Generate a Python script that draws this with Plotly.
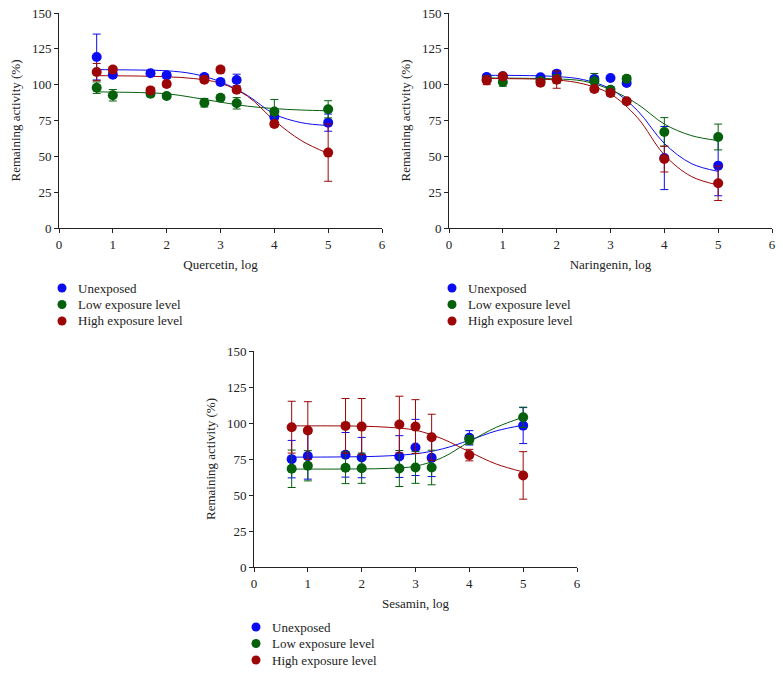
import plotly.graph_objects as go

# ---------------- data ----------------
conc_log = [0.7, 1, 1.7, 2, 2.7, 3, 3.3, 4, 5]
curve_x = [0.7, 1, 1.5, 2, 2.5, 3, 3.5, 4, 4.5, 5]

series_names = ["Unexposed", "Low exposure level", "High exposure level"]
series_colors = ["#0b0bf2", "#05600c", "#9c0606"]

# Quercetin
quer_unexp = [119.3, 107.0, 108.0, 106.5, 105.3, 101.9, 103.3, 77.4, 73.5]
quer_unexp_err = [16, 2, 2, 2, 2, 2, 4, 3, 6]
quer_low = [97.9, 92.6, 93.7, 92.1, 87.4, 90.9, 87.0, 81.2, 82.8]
quer_low_err = [4, 4, 2, 1.5, 3, 2, 4, 8.5, 6]
quer_high = [108.8, 110.5, 96.0, 100.5, 103.5, 110.5, 96.5, 72.6, 52.6]
quer_high_err = [6, 2, 2, 2, 2, 2, 2, 2, 20]
quer_fit_unexp = [110.5, 110.4, 110.2, 109.7, 107.5, 102.0, 92.5, 79.5, 73.5, 71.5]
quer_fit_low = [95.0, 94.8, 94.5, 93.7, 91.0, 87.8, 85.0, 83.3, 82.3, 81.8]
quer_fit_high = [106.3, 106.2, 106.0, 105.5, 104.3, 101.0, 92.0, 75.0, 61.0, 52.0]

# Naringenin
nar_unexp = [105.3, 105.8, 105.1, 107.7, 104.0, 104.7, 101.2, 48.8, 43.5]
nar_unexp_err = [2, 2, 1.5, 2, 2, 1, 1.5, 22, 21]
nar_low = [103.5, 101.9, 102.5, 104.0, 102.3, 96.5, 104.2, 67.0, 63.5]
nar_low_err = [2, 3, 2, 3, 5.5, 2, 2, 10, 9]
nar_high = [103.0, 105.8, 101.4, 103.5, 97.0, 94.2, 88.4, 48.1, 31.2]
nar_high_err = [3, 2, 2, 6, 2, 2, 2, 9, 12]
nar_fit_unexp = [106.5, 106.5, 106.3, 105.7, 103.5, 97.0, 82.0, 59.0, 45.0, 39.5]
nar_fit_low = [104.7, 104.6, 104.4, 104.0, 102.5, 96.5, 86.5, 72.5, 64.5, 61.0]
nar_fit_high = [104.3, 104.2, 104.0, 103.3, 100.5, 93.5, 77.0, 51.0, 36.0, 30.0]

# Sesamin
ses_unexp = [74.9, 77.0, 77.9, 76.0, 76.7, 83.0, 75.8, 89.7, 98.2]
ses_unexp_err = [13, 16, 15.5, 14, 14.5, 19.5, 13, 5, 12.5]
ses_low = [68.2, 70.3, 68.9, 68.6, 68.4, 69.1, 69.1, 88.3, 104.0]
ses_low_err = [13, 10.5, 11, 10.5, 12.5, 11, 12, 3, 7]
ses_high = [97.1, 94.8, 98.0, 97.5, 98.9, 97.5, 90.1, 77.7, 63.6]
ses_high_err = [18, 20, 19, 19.5, 19.7, 18.7, 16, 4, 16.5]
ses_fit_unexp = [76.3, 76.3, 76.4, 76.6, 77.2, 78.6, 82.0, 88.0, 94.5, 98.5]
ses_fit_low = [68.0, 68.0, 68.0, 68.1, 68.5, 70.0, 76.0, 87.0, 97.0, 104.0]
ses_fit_high = [98.0, 98.0, 98.0, 97.8, 97.0, 95.0, 89.0, 80.0, 71.5, 66.0]

x_ticks = [0, 1, 2, 3, 4, 5, 6]
y_ticks = [0, 25, 50, 75, 100, 125, 150]

panels = [
    ("Quercetin, log", [quer_unexp, quer_low, quer_high],
     [quer_unexp_err, quer_low_err, quer_high_err],
     [quer_fit_unexp, quer_fit_low, quer_fit_high]),
    ("Naringenin, log", [nar_unexp, nar_low, nar_high],
     [nar_unexp_err, nar_low_err, nar_high_err],
     [nar_fit_unexp, nar_fit_low, nar_fit_high]),
    ("Sesamin, log", [ses_unexp, ses_low, ses_high],
     [ses_unexp_err, ses_low_err, ses_high_err],
     [ses_fit_unexp, ses_fit_low, ses_fit_high]),
]

# ---------------- layout geometry ----------------
W, H = 783, 675
plot_boxes = [  # left, right, top, bottom in px
    (59, 382, 13, 228),
    (449, 772, 13, 228),
    (254, 577, 351, 567),
]
# legend: text left x, first row centre y, row step (px)
legend_pos = [(76, 288), (466, 288), (270, 627)]
legend_step = 16.5

FONT = "Liberation Serif, DejaVu Serif, serif"
TXT = "#222"

fig = go.Figure()
layout = dict(
    width=W, height=H,
    margin=dict(l=0, r=0, t=0, b=0),
    paper_bgcolor="white", plot_bgcolor="white",
    font=dict(family=FONT, size=13, color=TXT),
    showlegend=False,
)
annotations = []
shapes = []

for i, (title, ys, errs, fits) in enumerate(panels):
    xa = "x" if i == 0 else f"x{i+1}"
    ya = "y" if i == 0 else f"y{i+1}"
    for k in range(3):
        c = series_colors[k]
        fig.add_trace(go.Scatter(
            x=curve_x, y=fits[k], mode="lines", line=dict(color=c, width=1, shape="spline"),
            xaxis=xa, yaxis=ya, showlegend=False, hoverinfo="skip"))
    for k in range(3):
        c = series_colors[k]
        fig.add_trace(go.Scatter(
            x=conc_log, y=ys[k], mode="markers",
            marker=dict(color=c, size=10),
            error_y=dict(type="data", array=errs[k], visible=True, color=c, thickness=1, width=4),
            xaxis=xa, yaxis=ya, showlegend=False, name=series_names[k]))

    l, r, t, b = plot_boxes[i]
    axkey_x = "xaxis" if i == 0 else f"xaxis{i+1}"
    axkey_y = "yaxis" if i == 0 else f"yaxis{i+1}"
    layout[axkey_x] = dict(
        domain=[l / W, r / W], anchor=ya, range=[0, 6], tickvals=x_ticks,
        showline=True, linecolor=TXT, linewidth=1, ticks="outside", ticklen=4,
        tickcolor=TXT, showgrid=False, zeroline=False, automargin=False,
        title=dict(text=title, font=dict(family=FONT, size=13), standoff=9),
        tickfont=dict(family=FONT, size=13))
    layout[axkey_y] = dict(
        domain=[1 - b / H, 1 - t / H], anchor=xa, range=[0, 150], tickvals=y_ticks,
        showline=True, linecolor=TXT, linewidth=1, ticks="outside", ticklen=4,
        tickcolor=TXT, showgrid=False, zeroline=False, automargin=False,
        title=dict(text="Remaining activity (%)", font=dict(family=FONT, size=13), standoff=8),
        tickfont=dict(family=FONT, size=13))

    # manual legend (circle + text) under each panel
    tx, ty = legend_pos[i]
    for k in range(3):
        cy = ty + k * legend_step
        cx = tx - 14
        shapes.append(dict(type="circle", xref="paper", yref="paper",
                           x0=(cx - 4.5) / W, x1=(cx + 4.5) / W,
                           y0=1 - (cy + 4.5) / H, y1=1 - (cy - 4.5) / H,
                           fillcolor=series_colors[k], line=dict(width=0)))
        annotations.append(dict(text=series_names[k], xref="paper", yref="paper",
                                x=tx / W, y=1 - cy / H, xanchor="left", yanchor="middle",
                                showarrow=False, font=dict(family=FONT, size=13, color=TXT)))

layout["annotations"] = annotations
layout["shapes"] = shapes
fig.update_layout(**layout)
fig.write_html("out.html", config={"displayModeBar": False},
               post_script="document.body.style.margin='0';document.body.style.padding='0';")
